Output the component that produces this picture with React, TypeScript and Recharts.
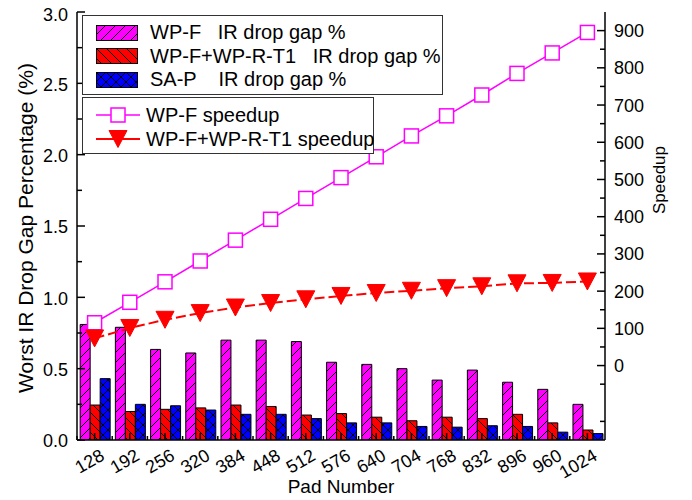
import React from 'react';
import { ComposedChart, Bar, Line, XAxis, YAxis, Legend } from 'recharts';

const pads = ['128', '192', '256', '320', '384', '448', '512', '576', '640', '704', '768', '832', '896', '960', '1024'];
const wpfGap = [0.81, 0.79, 0.635, 0.61, 0.70, 0.70, 0.69, 0.545, 0.53, 0.50, 0.42, 0.49, 0.405, 0.355, 0.25];
const wpfR1Gap = [0.245, 0.20, 0.215, 0.225, 0.245, 0.235, 0.175, 0.185, 0.16, 0.135, 0.16, 0.15, 0.18, 0.12, 0.07];
const sapGap = [0.43, 0.25, 0.24, 0.21, 0.18, 0.18, 0.15, 0.12, 0.12, 0.095, 0.09, 0.10, 0.095, 0.055, 0.045];
const wpfSpeedup = [115, 170, 225, 281, 337, 393, 449, 505, 561, 617, 671, 727, 785, 840, 895];
const wpfR1Speedup = [73, 101, 123, 141, 156, 168, 178, 187, 195, 201, 208, 213, 221, 222, 226];

const leftTicks = [0, 0.25, 0.5, 0.75, 1, 1.25, 1.5, 1.75, 2, 2.25, 2.5, 2.75, 3];
const rightTicks = [-150, -50, 0, 50, 100, 150, 200, 250, 300, 350, 400, 450, 500, 550, 600, 650, 700, 750, 800, 850, 900];

const seriesNames = [
  'WP-F   IR drop gap %',
  'WP-F+WP-R-T1   IR drop gap %',
  'SA-P    IR drop gap %',
  'WP-F speedup',
  'WP-F+WP-R-T1 speedup',
];

const data = pads.map((pad, i) => ({
  pad,
  wpfGap: wpfGap[i],
  wpfR1Gap: wpfR1Gap[i],
  sapGap: sapGap[i],
  wpfSpeedup: wpfSpeedup[i],
  wpfR1Speedup: wpfR1Speedup[i],
}));

const FONT = '"Liberation Sans", Arial, Helvetica, sans-serif';
const MAGENTA = '#FF00FF';
const RED = '#FF0000';
const BLUE = '#0000FF';

const LeftTick = (props: any) => {
  const { x, y, payload } = props;
  const v = payload.value as number;
  const major = Math.abs(v * 2 - Math.round(v * 2)) < 1e-6;
  const ax = x + 9;
  const shift = v === 3 ? 3 : 1;
  return (
    <g>
      <line x1={ax} x2={ax + (major ? 8 : 5)} y1={y} y2={y} stroke="#000" strokeWidth={1.5} />
      {major && (
        <text x={x} y={y + shift} dy="0.36em" textAnchor="end" fontSize={18} fontFamily={FONT} fill="#000">
          {v.toFixed(1)}
        </text>
      )}
    </g>
  );
};

const RightTick = (props: any) => {
  const { x, y, payload } = props;
  const v = payload.value as number;
  const major = v >= 0 && v % 100 === 0;
  const ax = x - 9;
  return (
    <g>
      <line x1={ax} x2={ax - (major ? 8 : 5)} y1={y} y2={y} stroke="#000" strokeWidth={1.5} />
      {major && (
        <text x={x} y={y} dy="0.36em" textAnchor="start" fontSize={18} fontFamily={FONT} fill="#000">
          {v}
        </text>
      )}
    </g>
  );
};

const BottomTick = (props: any) => {
  const { x, y, payload, width, visibleTicksCount } = props;
  const half = payload.offset ? payload.offset : width / visibleTicksCount / 2;
  const tx = x + 11;
  const ty = y + 19;
  return (
    <g>
      <line x1={x} x2={x} y1={y} y2={y - 7} stroke="#000" strokeWidth={1.5} />
      <line x1={x - half} x2={x - half} y1={y} y2={y - 4} stroke="#000" strokeWidth={1.5} />
      <text x={tx} y={ty} transform={`rotate(-30 ${tx} ${ty})`} textAnchor="end" fontSize={18} fontFamily={FONT} fill="#000">
        {payload.value}
      </text>
    </g>
  );
};

const TopTick = (props: any) => {
  const { x, y, payload, width, visibleTicksCount } = props;
  const half = payload.offset ? payload.offset : width / visibleTicksCount / 2;
  return (
    <g>
      <line x1={x} x2={x} y1={y} y2={y + 4} stroke="#000" strokeWidth={1.2} />
      <line x1={x - half} x2={x - half} y1={y} y2={y + 4} stroke="#000" strokeWidth={1.2} />
    </g>
  );
};

const SquareDot = (props: any) => {
  const { cx, cy, index } = props;
  if (cx == null || cy == null) return <g key={`sq-${index}`} />;
  return <rect key={`sq-${index}`} x={cx - 7} y={cy - 7} width={14} height={14} fill="#fff" stroke={MAGENTA} strokeWidth={1.5} />;
};

const TriDot = (props: any) => {
  const { cx, cy, index } = props;
  if (cx == null || cy == null) return <g key={`tr-${index}`} />;
  const pts = `${cx - 9},${cy - 8.5} ${cx + 9},${cy - 8.5} ${cx},${cy + 8.5}`;
  return <polygon key={`tr-${index}`} points={pts} fill={RED} stroke={RED} strokeWidth={1} />;
};

const leftTitle = (props: any) => {
  const vb = props.viewBox || {};
  const x = vb.x + 16;
  const y = vb.y + vb.height / 2 + 2;
  return (
    <text x={x} y={y} transform={`rotate(-90 ${x} ${y})`} textAnchor="middle" fontSize={21} fontFamily={FONT} fill="#000">
      Worst IR Drop Gap Percentage (%)
    </text>
  );
};

const rightTitle = (props: any) => {
  const vb = props.viewBox || {};
  const x = vb.x + 60;
  const y = vb.y + 168;
  return (
    <text x={x} y={y} transform={`rotate(-90 ${x} ${y})`} textAnchor="middle" fontSize={17} fontFamily={FONT} fill="#000">
      Speedup
    </text>
  );
};

const bottomTitle = (props: any) => {
  const vb = props.viewBox || {};
  return (
    <text x={vb.x + vb.width / 2} y={vb.y + 52.5} textAnchor="middle" fontSize={19} fontFamily={FONT} fill="#000">
      Pad Number
    </text>
  );
};

const renderLegend = (props: any) => {
  const items: any[] = (props.payload || []).slice();
  items.sort((a, b) => seriesNames.indexOf(a.value) - seriesNames.indexOf(b.value));
  const bars = items.filter((it) => it.type === 'rect');
  const lines = items.filter((it) => it.type !== 'rect');
  return (
    <div style={{ position: 'relative', width: 361, height: 140, fontFamily: FONT, fontSize: 20, color: '#000', lineHeight: '23px' }}>
      <div style={{ position: 'absolute', left: 0, top: 0, width: 361, height: 80, border: '1px solid #333', boxSizing: 'border-box', paddingTop: 5, background: '#fff' }}>
        {bars.map((it) => (
          <div key={it.value} style={{ display: 'flex', alignItems: 'center', height: 23.6 }}>
            <svg width={42} height={16} style={{ marginLeft: 13, flex: 'none', display: 'block' }}>
              <rect x={0.5} y={0.5} width={41} height={15} fill={it.color} stroke="#000" strokeWidth={1} />
            </svg>
            <span style={{ marginLeft: 12, whiteSpace: 'pre' }}>{it.value}</span>
          </div>
        ))}
      </div>
      <div style={{ position: 'absolute', left: 0, top: 82, width: 292, height: 57, border: '1px solid #333', boxSizing: 'border-box', paddingTop: 5, background: '#fff' }}>
        {lines.map((it) => (
          <div key={it.value} style={{ display: 'flex', alignItems: 'center', height: 24.3 }}>
            <svg width={44} height={20} style={{ marginLeft: 13, flex: 'none', display: 'block' }}>
              <line x1={0} x2={44} y1={10} y2={10} stroke={it.color} strokeWidth={it.type === 'square' ? 1.5 : 2} />
              {it.type === 'square' ? (
                <rect x={15} y={3} width={14} height={14} fill="#fff" stroke={it.color} strokeWidth={1.5} />
              ) : (
                <polygon points="13,1.5 31,1.5 22,18.5" fill={it.color} stroke={it.color} />
              )}
            </svg>
            <span style={{ marginLeft: 6, whiteSpace: 'pre' }}>{it.value}</span>
          </div>
        ))}
      </div>
    </div>
  );
};

export default function App() {
  return (
    <div style={{ position: 'relative', top: -8, width: 676, height: 500 }}>
      <svg width={0} height={0} style={{ position: 'absolute', left: 0, top: 0 }}>
        <defs>
          <pattern id="patF" patternUnits="userSpaceOnUse" width={10} height={10}>
            <rect width={10} height={10} fill={MAGENTA} />
            <path d="M-2,2 L2,-2 M0,10 L10,0 M8,12 L12,8" stroke="#000" strokeWidth={1} />
          </pattern>
          <pattern id="patR" patternUnits="userSpaceOnUse" width={10} height={10}>
            <rect width={10} height={10} fill={RED} />
            <path d="M-2,8 L2,12 M0,0 L10,10 M8,-2 L12,2" stroke="#000" strokeWidth={1} />
          </pattern>
          <pattern id="patS" patternUnits="userSpaceOnUse" width={10} height={10}>
            <rect width={10} height={10} fill={BLUE} />
            <path d="M-2,2 L2,-2 M0,10 L10,0 M8,12 L12,8 M-2,8 L2,12 M0,0 L10,10 M8,-2 L12,2" stroke="#000" strokeWidth={1} />
          </pattern>
        </defs>
      </svg>
      <ComposedChart
        width={676}
        height={500}
        data={data}
        margin={{ top: 12, right: 19, bottom: 10, left: 9 }}
        barCategoryGap="9%"
        barGap={0}
        style={{ fontFamily: FONT }}
      >
        <XAxis
          dataKey="pad"
          height={50}
          interval={0}
          tickSize={0}
          tickMargin={0}
          tickLine={false}
          axisLine={{ stroke: '#000', strokeWidth: 1.5 }}
          tick={BottomTick}
          label={bottomTitle}
        />
        <XAxis
          xAxisId="top"
          dataKey="pad"
          orientation="top"
          height={0}
          interval={0}
          tickSize={0}
          tickMargin={0}
          tickLine={false}
          axisLine={{ stroke: '#000', strokeWidth: 1.5 }}
          tick={TopTick}
        />
        <YAxis
          yAxisId="left"
          orientation="left"
          width={60}
          domain={[0, 3]}
          ticks={leftTicks}
          interval={0}
          tickSize={0}
          tickMargin={9}
          tickLine={false}
          axisLine={{ stroke: '#000', strokeWidth: 1.5 }}
          tick={LeftTick}
          allowDataOverflow
          label={leftTitle}
        />
        <YAxis
          yAxisId="right"
          orientation="right"
          width={60}
          domain={[-200, 950]}
          ticks={rightTicks}
          interval={0}
          tickSize={0}
          tickMargin={9}
          tickLine={false}
          axisLine={{ stroke: '#000', strokeWidth: 1.5 }}
          tick={RightTick}
          allowDataOverflow
          label={rightTitle}
        />
        <Legend
          layout="vertical"
          verticalAlign="middle"
          align="center"
          content={renderLegend}
          wrapperStyle={{ left: 74, top: 15, width: 361, height: 140 }}
        />
        <Bar yAxisId="left" dataKey="wpfGap" name={seriesNames[0]} fill="url(#patF)" stroke="#000" strokeWidth={1} legendType="rect" isAnimationActive={false} />
        <Bar yAxisId="left" dataKey="wpfR1Gap" name={seriesNames[1]} fill="url(#patR)" stroke="#000" strokeWidth={1} legendType="rect" isAnimationActive={false} />
        <Bar yAxisId="left" dataKey="sapGap" name={seriesNames[2]} fill="url(#patS)" stroke="#000" strokeWidth={1} legendType="rect" isAnimationActive={false} />
        <Line yAxisId="right" dataKey="wpfSpeedup" name={seriesNames[3]} stroke={MAGENTA} strokeWidth={1.5} dot={SquareDot} activeDot={false} legendType="square" isAnimationActive={false} />
        <Line yAxisId="right" dataKey="wpfR1Speedup" name={seriesNames[4]} stroke={RED} strokeWidth={2} strokeDasharray="10 4" dot={TriDot} activeDot={false} legendType="triangle" isAnimationActive={false} />
      </ComposedChart>
    </div>
  );
}
